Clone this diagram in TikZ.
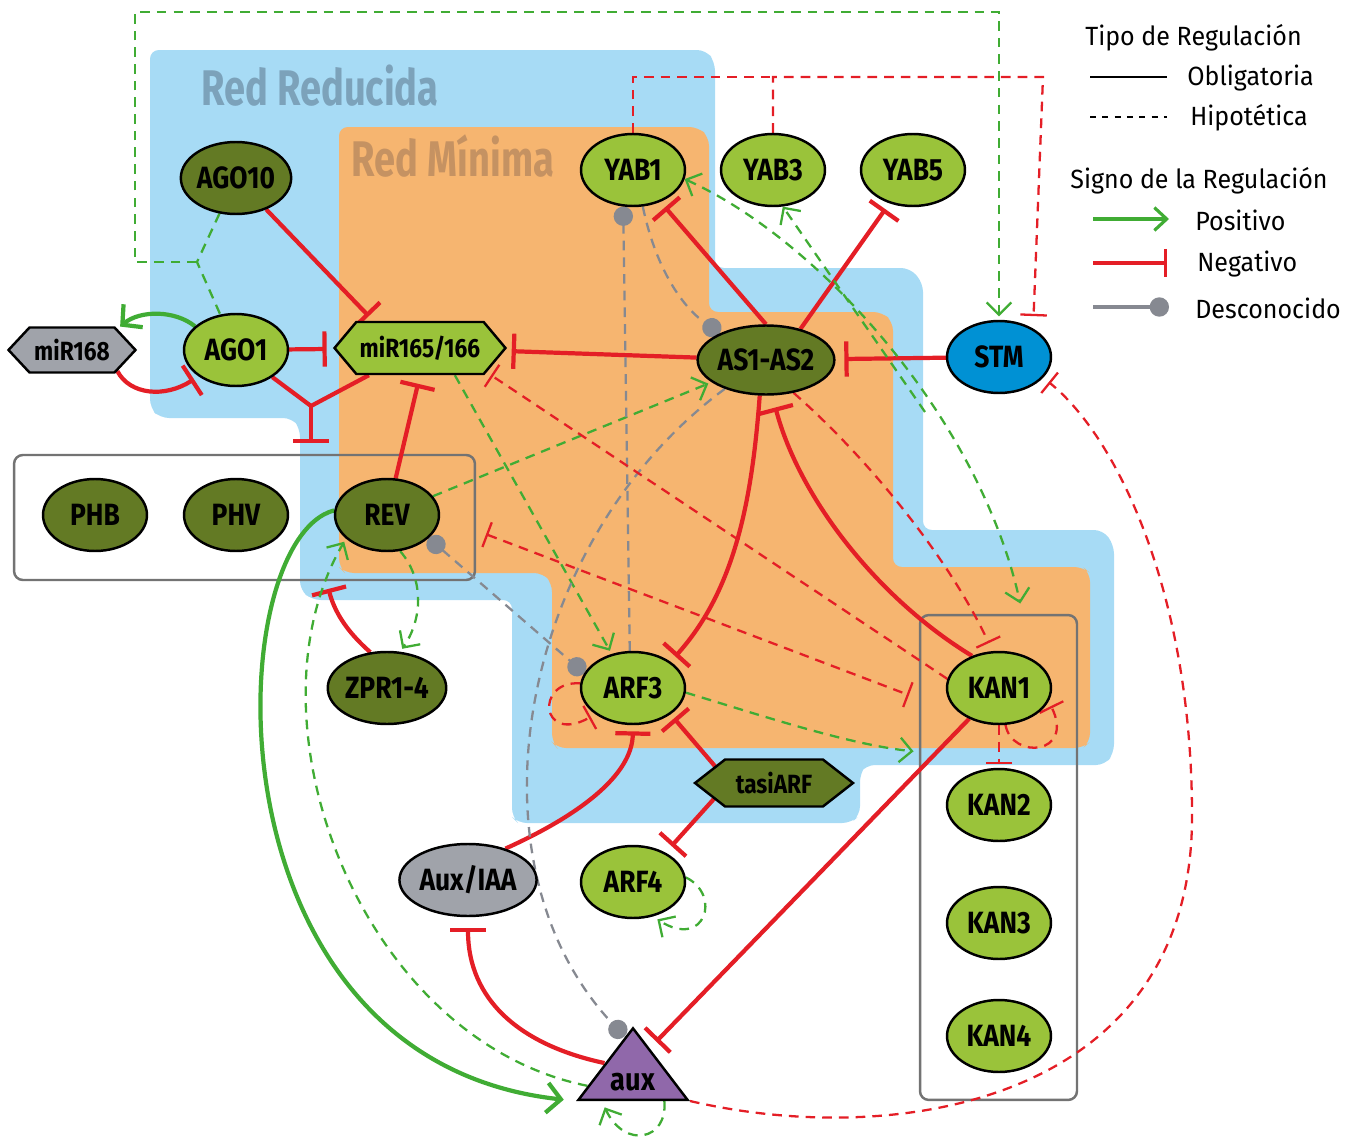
\documentclass[tikz,border=0pt]{standalone}
\usepackage{fontspec}
\setmainfont{Fira Sans}[FakeStretch=0.95]
\newfontfamily\genefont{Fira Sans}[FakeStretch=0.86]
\newfontfamily\regionfont{Fira Sans}[FakeStretch=0.76]
\usetikzlibrary{arrows.meta,shapes.geometric,shapes.symbols,calc}

\definecolor{limegreen}{RGB}{154,195,58}
\definecolor{olivegreen}{RGB}{99,122,36}
\definecolor{nodegray}{RGB}{160,163,170}
\definecolor{stmblue}{RGB}{0,145,212}
\definecolor{auxpurple}{RGB}{144,104,170}
\definecolor{redblue}{RGB}{167,219,245}
\definecolor{redorange}{RGB}{246,181,112}
\definecolor{reducidatext}{RGB}{124,162,186}
\definecolor{minimatext}{RGB}{197,146,98}
\definecolor{posgreen}{RGB}{64,172,52}
\definecolor{negred}{RGB}{228,30,38}
\definecolor{unkgray}{RGB}{134,137,145}
\definecolor{boxgray}{RGB}{115,115,115}

\pgfdeclarelayer{regions}
\pgfdeclarelayer{links}
\pgfsetlayers{regions,links,main}

\tikzset{
  gene/.style={ellipse, draw=black, line width=1.4pt, minimum width=2.08cm,
    minimum height=1.44cm, inner sep=0pt, font=\genefont\bfseries\fontsize{17.5}{19}\selectfont},
  lightgene/.style={gene, fill=limegreen},
  darkgene/.style={gene, fill=olivegreen},
  mirna/.style={signal, signal to=west and east, draw=black, line width=1.4pt,
    inner sep=0pt, font=\genefont\bfseries\fontsize{15}{17}\selectfont},
  auxnode/.style={isosceles triangle, isosceles triangle stretches, shape border rotate=90,
    minimum width=2.18cm, minimum height=1.4cm, inner sep=0pt, draw=black,
    line width=1.4pt, fill=auxpurple, font=\genefont\bfseries\fontsize{18}{19}\selectfont},
  groupbox/.style={draw=boxgray, line width=1.4pt, rounded corners=5pt, inner sep=0pt},
  regionlabel/.style={font=\regionfont\bfseries\fontsize{28.5}{30}\selectfont},
  activ/.style={posgreen, line width=2.4pt, -{Straight Barb[length=8pt,width=17pt]}},
  repress/.style={negred, line width=2.4pt, -{Bar[width=20pt]}},
  hypo/.style={line width=1.3pt, dash pattern=on 5.5pt off 4pt},
  activdash/.style={posgreen, hypo, -{Straight Barb[length=7pt,width=14pt]}},
  repressdash/.style={negred, hypo, -{Bar[width=15pt]}},
  unknown/.style={unkgray, hypo, -{Circle[length=11pt]}},
  legtext/.style={anchor=west, inner sep=0pt, font=\fontsize{15}{17}\selectfont},
}

\begin{document}
\begin{tikzpicture}[x=0.02cm, y=-0.02cm]
\useasboundingbox (0,0) rectangle (1357,1146);

\begin{pgfonlayer}{regions}
\fill[redblue, rounded corners=5pt] (150,50) -- (706,50) -- (715,62) -- (715,268)
  -- (910,268) -- (923,283) -- (923,530) -- (1103,530) -- (1114,545) -- (1114,753)
  -- (1105,765) -- (866,765) -- (860,773) -- (860,815) -- (851,823) -- (518,823)
  -- (512,817) -- (512,600) -- (312,600) -- (300,590) -- (300,428) -- (292,418)
  -- (160,418) -- (150,408) -- cycle;
\fill[redorange, rounded corners=5pt] (339,127) -- (698,127) -- (709,137) -- (709,312)
  -- (882,312) -- (893,322) -- (893,567) -- (1083,567) -- (1090,573) -- (1090,742)
  -- (1083,748) -- (557,748) -- (552,742) -- (552,583) -- (543,573) -- (345,573)
  -- (339,567) -- cycle;
\node[regionlabel, text=reducidatext] (reducida) at (320,86) {Red Reducida};
\node[regionlabel, text=minimatext] (minima) at (453,156) {Red Mínima};
\node[groupbox, minimum width=9.22cm, minimum height=2.5cm] (hdzip) at (244.5,517.5) {};
\node[groupbox, minimum width=3.14cm, minimum height=9.7cm] (kanbox) at (998.5,857.5) {};
\end{pgfonlayer}

\node[darkgene] (AGO10) at (236,178) {AGO10};
\node[lightgene] (AGO1) at (236,350) {AGO1};
\node[mirna, fill=nodegray, signal pointer angle=94, minimum width=2.54cm, minimum height=0.9cm] (miR168) at (72,350) {miR168};
\node[mirna, fill=limegreen, signal pointer angle=100, minimum width=3.42cm, minimum height=1.04cm] (miR165) at (420,348) {miR165/166};
\node[lightgene] (YAB1) at (633,170) {YAB1};
\node[lightgene] (YAB3) at (773,170) {YAB3};
\node[lightgene] (YAB5) at (913,170) {YAB5};
\node[darkgene, minimum width=2.34cm, minimum height=1.38cm] (AS12) at (766,360) {AS1-AS2};
\node[gene, fill=stmblue] (STM) at (999,357) {STM};
\node[darkgene] (PHB) at (95,515) {PHB};
\node[darkgene] (PHV) at (236,515) {PHV};
\node[darkgene] (REV) at (387,515) {REV};
\node[darkgene] (ZPR) at (387,688) {ZPR1-4};
\node[lightgene] (ARF3) at (633,688) {ARF3};
\node[lightgene] (KAN1) at (999,688) {KAN1};
\node[lightgene] (KAN2) at (999,805) {KAN2};
\node[lightgene] (KAN3) at (999,923) {KAN3};
\node[lightgene] (KAN4) at (999,1036) {KAN4};
\node[mirna, fill=olivegreen, signal pointer angle=76, minimum width=3.16cm, minimum height=0.94cm] (tasiARF) at (774,783) {tasiARF};
\node[gene, fill=nodegray] (AuxIAA) at (468,880) {Aux/IAA};
\node[lightgene] (ARF4) at (633,882) {ARF4};
\node[auxnode, anchor=lower side] (aux) at (633,1101) {aux};

\begin{pgfonlayer}{links}
\draw[repress, shorten >=4pt] (AGO10) -- (miR165.150);
\draw[repress, shorten >=4pt] (AGO1) -- (miR165);
\draw[activ, shorten >=2pt] (AGO1.150) .. controls (175,310) and (140,310) .. (miR168.25);
\draw[repress, shorten >=3pt] (miR168.-25) .. controls (130,395) and (165,398) .. (AGO1.-145);
\coordinate (yjoin) at (311,406);
\draw[repress, -] (AGO1) -- (yjoin) -- (miR165);
\draw[repress, shorten >=6pt] (yjoin) -- (yjoin |- hdzip.north);
\draw[repress, shorten >=5pt] (REV) -- (miR165.-90);
\draw[repress, shorten >=4pt] (AS12) -- (miR165);
\draw[repress, shorten >=5pt] (STM) -- (AS12);
\draw[repress, shorten >=4pt] (AS12.north) -- (YAB1);
\draw[repress, shorten >=4pt] (AS12.42) -- (YAB5);
\draw[repress, shorten >=4pt] (AS12.-100) .. controls (752,500) and (735,590) .. (ARF3.35);
\draw[repress, shorten >=7pt] (KAN1.130) .. controls (880,600) and (800,500) .. (AS12.-80);
\draw[repress, shorten >=3pt] (tasiARF.164) -- (ARF3.-35);
\draw[repress, shorten >=5pt] (tasiARF.-165) -- (ARF4.42);
\draw[repress, shorten >=3.5pt] (AuxIAA.40) .. controls (580,815) and (632,775) .. (ARF3.-90);
\draw[repress, shorten >=6pt] (aux.left side) .. controls (520,1045) and (468,1000) .. (AuxIAA.-90);
\draw[repress, shorten >=5pt] (KAN1) -- ($(aux.apex)!0.3!(aux.right corner)$);
\draw[repress, shorten >=4.5pt] (ZPR.115) .. controls (345,630) and (334,610) .. (ZPR.west |- hdzip.south);
\draw[activ, shorten >=7pt] (REV.175) .. controls (220,540) and (200,1060) .. (aux.left corner);

\coordinate (agojoin) at (197,262);
\coordinate (topcorner) at (135,12);
\draw[posgreen, hypo] (AGO10) -- (agojoin) -- (AGO1);
\draw[activdash, shorten >=2pt] (agojoin) -- (agojoin -| topcorner) -- (topcorner) -- (topcorner -| STM) -- (STM);
\coordinate (yabjoin) at (773,77);
\coordinate (stmcorner) at (1043,77);
\draw[negred, hypo] (YAB1.north) |- (yabjoin);
\draw[repressdash, shorten >=7pt] (YAB3.north) -- (yabjoin) -- (stmcorner) -- (STM.40);
\draw[repressdash, shorten >=4pt] (aux.right corner) .. controls (900,1150) and (1190,1100) .. (1192,820) .. controls (1193,600) and (1120,440) .. (STM.-25);
\draw[activdash, shorten >=2pt] (REV) -- (AS12);
\draw[activdash, shorten >=2pt] (miR165.-38) -- (ARF3.122);
\draw[activdash, shorten >=2pt] (REV.-70) .. controls (425,580) and (422,620) .. (ZPR.70);
\draw[unknown] (ARF3.95) -- (YAB1.-105);
\draw[unknown] (YAB1.-75) .. controls (655,265) and (680,305) .. (AS12.150);
\draw[unknown, {Circle[length=11pt]}-{Circle[length=11pt]}] (REV.-29) -- (ARF3.163);
\draw[unknown] (AS12.-145) .. controls (520,540) and (460,860) .. ($(aux.apex)!0.15!(aux.left corner)$);
\draw[repressdash, shorten >=3pt] (KAN1.170) -- (miR165.-20);
\draw[repressdash, {Bar[width=15pt]}-{Bar[width=15pt]}, shorten <=6pt, shorten >=6pt] ($(hdzip.east)+(0,13)$) -- ($(kanbox.north west)+(0,85)$);
\draw[repressdash, shorten >=5pt] (AS12.-50) .. controls (870,460) and (950,560) .. (KAN1.100);
\draw[activdash, {Straight Barb[length=7pt,width=14pt]}-{Straight Barb[length=7pt,width=14pt]}, shorten >=6pt] (YAB1.-10) .. controls (820,240) and (980,420) .. ($(kanbox.north)+(24,0)$);
\coordinate (kanjoin) at (925,412);
\draw[activdash] (kanjoin) -- (YAB3.-75);
\draw[activdash, shorten >=3pt] (ARF3.-5) .. controls (760,715) and (850,745) .. ($(kanbox.north west)+(0,138)$);
\draw[repressdash, shorten >=3pt] (ARF3.175) .. controls (535,680) and (540,745) .. (ARF3.-145);
\draw[repressdash, shorten >=3pt] (KAN1.-80) .. controls (1012,760) and (1075,755) .. (KAN1.-15);
\draw[repressdash, shorten >=2pt] (KAN1) -- (KAN2);
\draw[activdash, shorten >=3pt] (ARF4.5) .. controls (722,895) and (705,950) .. (ARF4.-60);
\draw[activdash, shorten >=4pt] ($(aux.lower side)!0.55!(aux.right corner)$) .. controls (668,1140) and (625,1150) .. ($(aux.lower side)!0.55!(aux.left corner)$);
\draw[activdash, shorten >=2pt] ($(aux.left side)!0.6!(aux.left corner)$) .. controls (360,1040) and (240,720) .. (REV.-150);
\end{pgfonlayer}

\node[legtext] (tipo) at (1085,38) {Tipo de Regulación};
\node[legtext] (oblig) at (1187,78) {Obligatoria};
\node[legtext] (hipo) at (1190,118) {Hipotética};
\node[legtext] (signo) at (1070,181) {Signo de la Regulación};
\node[legtext] (positivo) at (1195,220) {Positivo};
\node[legtext] (negativo) at (1197,264) {Negativo};
\node[legtext] (descon) at (1195,308) {Desconocido};
\draw[black, line width=1.6pt] ($(oblig.west)+(-97,-1)$) -- ($(oblig.west)+(-20,-1)$);
\draw[black, line width=1.6pt, dash pattern=on 3.5pt off 3.5pt] ($(hipo.west)+(-100,-1)$) -- ($(hipo.west)+(-23,-1)$);
\draw[posgreen, line width=1.8pt, -{Straight Barb[length=7pt,width=13pt]}] ($(positivo.west)+(-102,-1)$) -- ($(positivo.west)+(-26,-1)$);
\draw[negred, line width=1.8pt, -{Bar[width=16pt]}] ($(negativo.west)+(-104,-1)$) -- ($(negativo.west)+(-30,-1)$);
\draw[unkgray, line width=1.8pt, -{Circle[length=11pt]}] ($(descon.west)+(-102,-1)$) -- ($(descon.west)+(-26,-1)$);
\end{tikzpicture}
\end{document}
